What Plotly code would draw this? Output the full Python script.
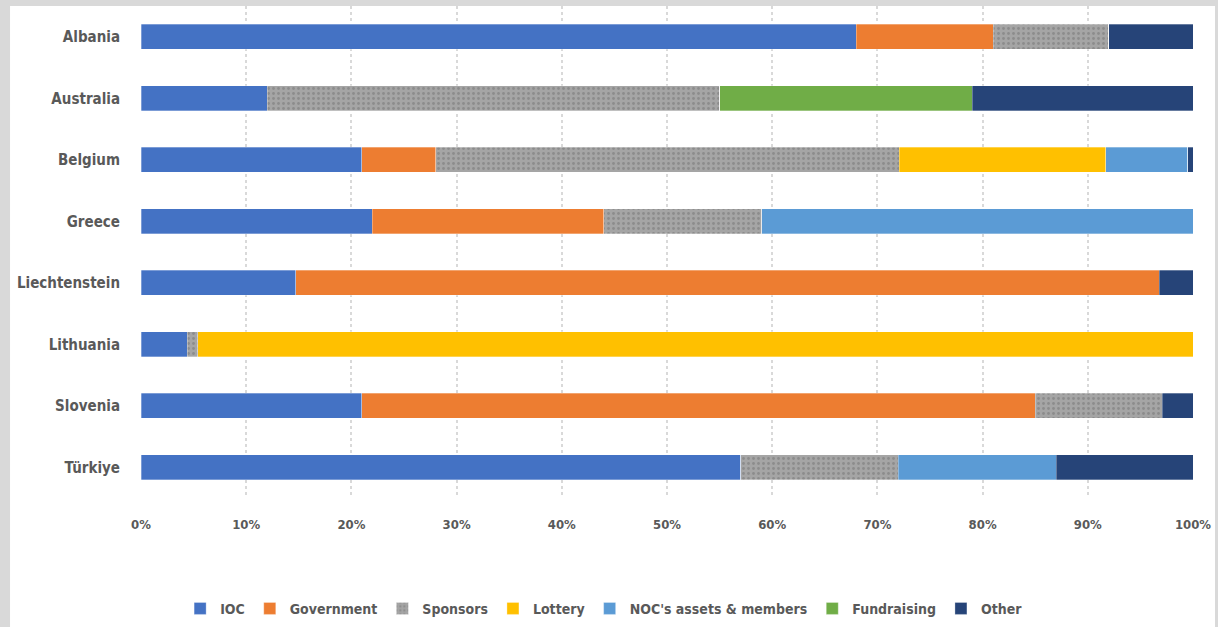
import plotly.graph_objects as go

countries = ["Albania", "Australia", "Belgium", "Greece", "Liechtenstein", "Lithuania", "Slovenia", "Türkiye"]
series_names = ["IOC", "Government", "Sponsors", "Lottery", "NOC's assets & members", "Fundraising", "Other"]

ioc          = [68, 12, 21.0, 22, 14.7, 4.4, 21.0, 57]
government   = [13, 0, 7.0, 22, 82.1, 0, 64.0, 0]
sponsors     = [11, 43, 44.1, 15, 0, 1.0, 12.1, 15]
lottery      = [0, 0, 19.6, 0, 0, 94.6, 0, 0]
noc_assets   = [0, 0, 7.8, 41, 0, 0, 0, 15]
fundraising  = [0, 24, 0, 0, 0, 0, 0, 0]
other        = [8, 21, 0.5, 0, 3.2, 0, 2.9, 13]

colors = ["#4472C4", "#ED7D31", "#A5A5A5", "#FFC000", "#5B9BD5", "#70AD47", "#264478"]
values = [ioc, government, sponsors, lottery, noc_assets, fundraising, other]

FONT = "DejaVu Sans Condensed"
TXT = "#595959"

fig = go.Figure()
for name, vals, col in zip(series_names, values, colors):
    marker = dict(color=col, line=dict(color="rgba(255,255,255,0.5)", width=0.6))
    if name == "Sponsors":
        marker["pattern"] = dict(shape=".", fgcolor="#8c8c8c", bgcolor=col, size=5, solidity=0.25, fillmode="replace")
    fig.add_trace(go.Bar(
        y=countries, x=vals, name=f"<b>{name}</b>", orientation="h",
        marker=marker, width=0.41,
    ))

fig.update_layout(
    barmode="stack",
    width=1218, height=627,
    margin=dict(l=141, r=25, t=6, b=129, autoexpand=False),
    paper_bgcolor="#D9D9D9",
    plot_bgcolor="white",
    font=dict(family=FONT, size=15, color=TXT),
    showlegend=True,
    legend=dict(
        orientation="h", xref="container", yref="container",
        x=0.496, xanchor="center", y=0.029, yanchor="middle",
        font=dict(family=FONT, size=14, color=TXT), traceorder="normal",
        bgcolor="rgba(0,0,0,0)", itemwidth=30,
    ),
    xaxis=dict(
        range=[0, 100], tickvals=list(range(0, 101, 10)),
        ticktext=[f"<b>{v}%</b>" for v in range(0, 101, 10)],
        showgrid=True, gridcolor="#D9D9D9", griddash="dot", gridwidth=1.5,
        zeroline=False, showline=False, ticks="",
        tickfont=dict(family=FONT, size=13, color=TXT),
        ticklabelstandoff=17,
    ),
    yaxis=dict(
        autorange="reversed", showgrid=False, showline=False, ticks="",
        tickfont=dict(family=FONT, size=15, color=TXT),
        ticklabelstandoff=20,
        tickvals=countries, ticktext=[f"<b>{c}</b>" for c in countries],
    ),
    shapes=[dict(type="rect", xref="paper", yref="paper", x0=-0.1245, x1=1.0209, y0=-0.3, y1=1.0,
                 fillcolor="white", line=dict(width=0), layer="below")],
)

fig.write_html("out.html", config={"displayModeBar": False},
               post_script="document.body.style.margin='0';")
